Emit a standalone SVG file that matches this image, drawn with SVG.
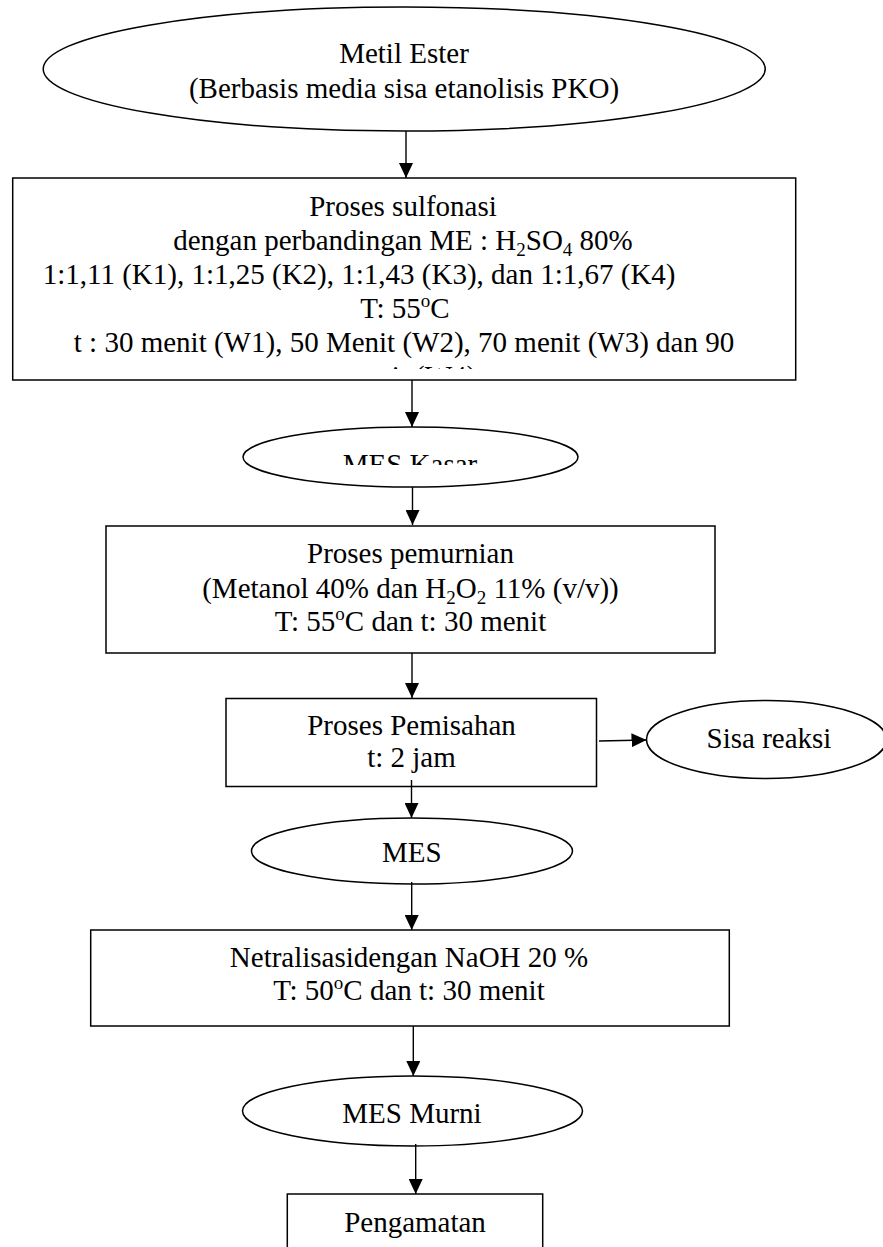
<svg xmlns="http://www.w3.org/2000/svg" width="883" height="1247" viewBox="0 0 883 1247">
<style>
.s{fill:#fff;stroke:#000;stroke-width:1.5}
.t{font-family:"Liberation Serif","Times New Roman",serif;font-size:29px;fill:#000;text-anchor:middle}
.sm{font-size:19px}
.c{stroke:#000;stroke-width:1.4;fill:none;marker-end:url(#ah)}
</style>
<defs>
<marker id="ah" markerUnits="userSpaceOnUse" markerWidth="15" markerHeight="14" refX="15" refY="7" orient="auto">
<path d="M0,0 L15,7 L0,14 z" fill="#000"/>
</marker>
<clipPath id="clip1"><rect x="13" y="178" width="782" height="191"/></clipPath>
<clipPath id="clip2"><rect x="243" y="427" width="336" height="38"/></clipPath>
</defs>
<g id="n1">
<ellipse class="s" cx="404.2" cy="69" rx="361" ry="62"/>
<text class="t" x="404" y="63">Metil Ester</text>
<text class="t" x="404" y="98">(Berbasis media sisa etanolisis PKO)</text>
</g>
<g id="n2">
<rect class="s" x="12.7" y="178" width="783" height="202"/>
<g clip-path="url(#clip1)">
<text class="t" x="403" y="216">Proses sulfonasi</text>
<text class="t" x="403" y="250">dengan perbandingan ME : H<tspan class="sm" dy="6">2</tspan><tspan dy="-6">SO</tspan><tspan class="sm" dy="6">4</tspan><tspan dy="-6"> 80%</tspan></text>
<text class="t" x="42.7" y="284" style="text-anchor:start">1:1,11 (K1), 1:1,25 (K2), 1:1,43 (K3), dan 1:1,67 (K4)</text>
<text class="t" x="405" y="318">T: 55<tspan class="sm" dy="-11">o</tspan><tspan dy="11">C</tspan></text>
<text class="t" x="404" y="352">t : 30 menit (W1), 50 Menit (W2), 70 menit (W3) dan 90</text>
<text class="t" x="409" y="386">menit (W4)</text>
</g>
</g>
<g id="n3">
<ellipse class="s" cx="410.5" cy="457" rx="167.5" ry="30"/>
<g clip-path="url(#clip2)">
<text class="t" x="410" y="474">MES Kasar</text>
</g>
</g>
<g id="n4">
<rect class="s" x="106" y="526" width="609" height="127"/>
<text class="t" x="410.5" y="563">Proses pemurnian</text>
<text class="t" x="410.5" y="598">(Metanol 40% dan H<tspan class="sm" dy="6">2</tspan><tspan dy="-6">O</tspan><tspan class="sm" dy="6">2</tspan><tspan dy="-6"> 11%  (v/v))</tspan></text>
<text class="t" x="410.5" y="631">T: 55<tspan class="sm" dy="-11">o</tspan><tspan dy="11">C dan t: 30 menit</tspan></text>
</g>
<g id="n5">
<rect class="s" x="226" y="698.5" width="370.5" height="88"/>
<text class="t" x="411.5" y="735">Proses Pemisahan</text>
<text class="t" x="411.5" y="767">t: 2 jam</text>
</g>
<g id="n6">
<ellipse class="s" cx="766.5" cy="739.5" rx="120" ry="39"/>
<text class="t" x="769" y="748">Sisa reaksi</text>
</g>
<g id="n7">
<ellipse class="s" cx="412" cy="851" rx="160.5" ry="33"/>
<text class="t" x="411.7" y="862">MES</text>
</g>
<g id="n8">
<rect class="s" x="90.7" y="930" width="638.6" height="96"/>
<text class="t" x="409" y="967">Netralisasidengan NaOH 20 %</text>
<text class="t" x="409" y="1000">T: 50<tspan class="sm" dy="-11">o</tspan><tspan dy="11">C dan t: 30 menit</tspan></text>
</g>
<g id="n9">
<ellipse class="s" cx="412.5" cy="1111" rx="170" ry="35"/>
<text class="t" x="412" y="1123">MES Murni</text>
</g>
<g id="n10">
<rect class="s" x="287.3" y="1194" width="255.4" height="80"/>
<text class="t" x="415" y="1232">Pengamatan</text>
</g>
<g id="connectors">
<line class="c" x1="406" y1="131" x2="406" y2="178"/>
<line class="c" x1="412" y1="380" x2="412" y2="427"/>
<line class="c" x1="412.5" y1="487" x2="412.5" y2="525"/>
<line class="c" x1="412" y1="653" x2="412" y2="698"/>
<line class="c" x1="599" y1="741" x2="646.5" y2="740"/>
<line class="c" x1="411.5" y1="780" x2="411.5" y2="818"/>
<line class="c" x1="411.7" y1="882" x2="411.7" y2="930"/>
<line class="c" x1="413.3" y1="1026" x2="413.3" y2="1076"/>
<line class="c" x1="415.7" y1="1144" x2="415.7" y2="1194"/>
</g>
</svg>
